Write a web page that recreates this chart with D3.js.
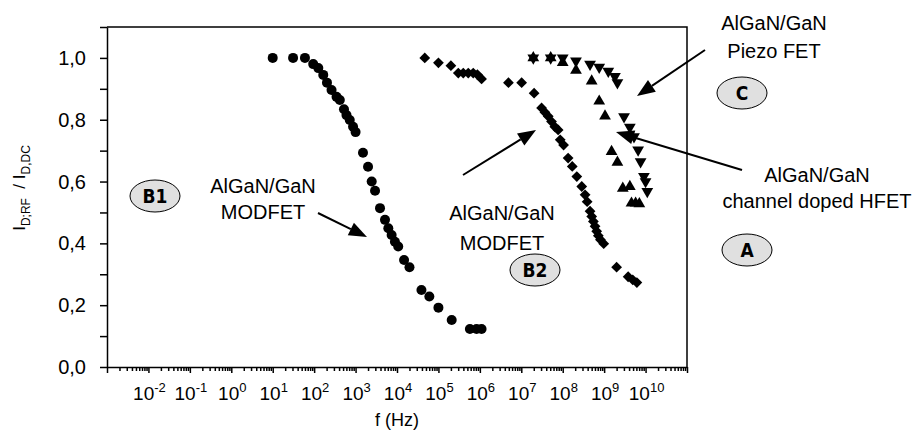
<!DOCTYPE html>
<html lang="en">
	<head>
		<meta charset="utf-8">
		<title>I_D;RF / I_D,DC vs f</title>
		<style>
			body { margin: 0; background: #fff; }
			#graph text { font-family: "Liberation Sans", Arial, sans-serif; fill: #000; }
			#graph .axis path, #graph .axis line { stroke: #000; stroke-width: 1.5; }
			#graph .badge text { font-family: "DejaVu Sans Condensed", "Liberation Sans Narrow", "Liberation Sans", Arial, sans-serif; font-weight: bold; }
		</style>
	</head>
	<body>

		<svg id="graph"></svg>

		<script src="https://d3js.org/d3.v7.min.js"></script>
		<script>
			"use strict";

			// circles : AlGaN/GaN MODFET (B1)
			var modfetB1Freq = [1e1, 3.1e1, 6e1, 9.5e1, 1.26e2, 1.66e2, 2.04e2, 2.63e2, 3.47e2, 4.17e2,
				5.25e2, 6.03e2, 7.24e2, 8.71e2, 1e3, 1.51e3, 2e3, 2.45e3, 2.95e3, 3.89e3,
				5.13e3, 6.17e3, 7.41e3, 8.91e3, 1.07e4, 1.48e4, 2e4, 3.89e4, 6.03e4, 1e5,
				2.09e5, 5.75e5, 8.32e5, 1.1e6];
			var modfetB1Val = [1.0, 1.0, 1.0, 0.98, 0.967, 0.945, 0.92, 0.896, 0.874, 0.864,
				0.834, 0.815, 0.799, 0.777, 0.76, 0.693, 0.648, 0.6, 0.57, 0.514,
				0.476, 0.449, 0.427, 0.405, 0.39, 0.346, 0.323, 0.249, 0.228, 0.192,
				0.152, 0.123, 0.123, 0.123];

			// diamonds : AlGaN/GaN MODFET (B2)
			var modfetB2Freq = [4.68e4, 1e5, 2e5, 3.02e5, 3.98e5, 5.25e5, 6.92e5, 8.71e5, 1.1e6, 4.9e6,
				1.02e7, 2.04e7, 3.09e7, 3.72e7, 4.47e7, 5.37e7, 6.46e7, 7.76e7, 8.71e7, 1.05e8,
				1.35e8, 1.7e8, 2.19e8, 2.88e8, 3.47e8, 3.89e8, 4.57e8, 5.01e8, 5.5e8, 6.03e8,
				6.61e8, 7.24e8, 8.13e8, 9.77e8, 2e9, 3.8e9, 4.9e9, 6.17e9];
			var modfetB2Val = [1.0, 0.984, 0.975, 0.951, 0.951, 0.951, 0.951, 0.946, 0.932, 0.92,
				0.92, 0.886, 0.838, 0.824, 0.811, 0.794, 0.777, 0.767, 0.735, 0.718,
				0.676, 0.649, 0.616, 0.584, 0.557, 0.535, 0.504, 0.487, 0.471, 0.455,
				0.439, 0.425, 0.412, 0.399, 0.323, 0.292, 0.282, 0.273];

			// up triangles : AlGaN/GaN channel doped HFET (A)
			var hfetFreq = [1.95e7, 5.13e7, 1e8, 2.09e8, 5e8, 7.6e8, 1.05e9, 1.51e9, 2.09e9, 2.82e9,
				4.17e9, 4.57e9, 5.75e9, 7.08e9];
			var hfetVal = [1.0, 1.0, 0.985, 0.96, 0.925, 0.86, 0.812, 0.697, 0.662, 0.578,
				0.584, 0.53, 0.53, 0.528];

			// down triangles : AlGaN/GaN Piezo FET (C)
			var piezoFreq = [1.95e7, 5.13e7, 1e8, 2.09e8, 4.57e8, 7.6e8, 1.26e9, 1.82e9, 2.09e9, 3.02e9,
				4.17e9, 5.25e9, 6.61e9, 7.59e9, 9.12e9, 1e10, 1.1e10];
			var piezoVal = [1.0, 1.0, 1.0, 0.99, 0.98, 0.97, 0.957, 0.94, 0.92, 0.81,
				0.776, 0.745, 0.702, 0.664, 0.617, 0.6, 0.568];

			var xTickExps = [-2, -1, 0, 1, 2, 3, 4, 5, 6, 7, 8, 9, 10];
			var yTickValues = [0, 0.2, 0.4, 0.6, 0.8, 1.0];
			var yTickLabels = ["0,0", "0,2", "0,4", "0,6", "0,8", "1,0"];

			var W = 917, H = 438;
			var mLeft = 107, mRight = 687, mTop = 27, mBottom = 367;

			var svg = d3.select("#graph").attr("width", W).attr("height", H);

			var x = d3.scaleLog().domain([1e-3, 1e11]).range([mLeft, mRight]);
			var y = d3.scaleLinear().domain([0, 1.1]).range([mBottom, mTop]);

			// log ticks 1..9 x 10^k
			var xTicks = [];
			for (var k = -3; k <= 10; k++) {
				for (var m = 1; m <= 9; m++) xTicks.push(m * Math.pow(10, k));
			}
			xTicks.push(1e11);

			var xAxis = svg.append("g")
				.attr("class", "axis")
				.attr("transform", "translate(0," + mBottom + ")")
				.call(d3.axisBottom(x).tickValues(xTicks).tickSize(4).tickSizeOuter(0).tickFormat(""));
			xAxis.selectAll(".tick line")
				.attr("y2", function(d){
					var e = Math.log10(d);
					return Math.abs(e - Math.round(e)) < 1e-9 ? 6 : 4;
				});

			var yTicks = d3.range(0, 12).map(function(i){ return i / 10; });
			svg.append("g")
				.attr("class", "axis")
				.attr("transform", "translate(" + mLeft + ",0)")
				.call(d3.axisLeft(y).tickValues(yTicks).tickSize(7).tickSizeOuter(0).tickFormat(""));

			// frame
			svg.append("path")
				.attr("d", "M" + mLeft + "," + mTop + "H" + mRight + "V" + mBottom)
				.attr("fill", "none").attr("stroke", "#000").attr("stroke-width", 1.5);

			// y labels
			svg.append("g").selectAll("text")
				.data(yTickValues)
				.enter()
				.append("text")
				.attr("x", 86)
				.attr("y", function(d){ return y(d) + 7; })
				.attr("text-anchor", "end")
				.attr("font-size", 20)
				.text(function(d,i){ return yTickLabels[i]; });

			// x labels 10^n
			var xl = svg.append("g").selectAll("text")
				.data(xTickExps)
				.enter()
				.append("text")
				.attr("x", function(d){ return x(Math.pow(10, d)) + 1; })
				.attr("y", 400)
				.attr("text-anchor", "middle")
				.attr("font-size", 19);
			xl.append("tspan").text("10");
			xl.append("tspan").attr("dy", -8).attr("font-size", 13).text(function(d){ return d; });

			svg.append("text")
				.attr("x", (mLeft + mRight) / 2)
				.attr("y", 426)
				.attr("text-anchor", "middle")
				.attr("font-size", 18)
				.text("f (Hz)");

			var yt = svg.append("text")
				.attr("transform", "translate(25,188) rotate(-90)")
				.attr("text-anchor", "middle")
				.attr("font-size", 17);
			yt.append("tspan").text("I");
			yt.append("tspan").attr("dy", 5).attr("font-size", 12).text("D;RF");
			yt.append("tspan").attr("dy", -5).text("\u00a0\u00a0/ I");
			yt.append("tspan").attr("dy", 5).attr("font-size", 12).text("D,DC");

			// markers
			function pts(fs, vs) {
				return fs.map(function(f, i){ return { f: f, v: vs[i] }; });
			}
			var marks = svg.append("g");

			marks.selectAll("circle")
				.data(pts(modfetB1Freq, modfetB1Val))
				.enter()
				.append("circle")
				.attr("cx", function(d){ return x(d.f); })
				.attr("cy", function(d){ return y(d.v); })
				.attr("r", 5)
				.attr("fill", "#000");

			function symbols(data, type, size, rot) {
				marks.append("g").selectAll("path")
					.data(data)
					.enter()
					.append("path")
					.attr("d", d3.symbol().type(type).size(size))
					.attr("transform", function(d){
						return "translate(" + x(d.f) + "," + y(d.v) + ") rotate(" + rot + ")";
					})
					.attr("fill", "#000");
			}
			symbols(pts(modfetB2Freq, modfetB2Val), d3.symbolSquare, 58, 45);
			symbols(pts(hfetFreq, hfetVal), d3.symbolTriangle, 60, 0);
			symbols(pts(piezoFreq, piezoVal), d3.symbolTriangle, 60, 180);

			// annotations
			function label(cx, lines, y0, dy) {
				lines.forEach(function(t, i){
					svg.append("text")
						.attr("x", cx).attr("y", y0 + i * dy)
						.attr("text-anchor", "middle")
						.attr("font-size", 20)
						.text(t);
				});
			}
			label(263, ["AlGaN/GaN", "MODFET"], 193, 26);
			label(502, ["AlGaN/GaN", "MODFET"], 220, 30);
			label(774, ["AlGaN/GaN", "Piezo FET"], 30, 28);
			label(817, ["AlGaN/GaN", "channel doped HFET"], 182, 26);

			function arrow(x1, y1, x2, y2) {
				var a = Math.atan2(y2 - y1, x2 - x1), len = 18, hw = 7;
				var bx = x2 - len * Math.cos(a), by = y2 - len * Math.sin(a);
				svg.append("line")
					.attr("x1", x1).attr("y1", y1).attr("x2", bx).attr("y2", by)
					.attr("stroke", "#000").attr("stroke-width", 2);
				svg.append("polygon")
					.attr("points", [
						[x2, y2],
						[bx + hw * Math.sin(a), by - hw * Math.cos(a)],
						[bx - hw * Math.sin(a), by + hw * Math.cos(a)]
					].join(" "))
					.attr("fill", "#000");
			}
			arrow(318, 213, 367, 237);
			arrow(463, 175, 536, 130);
			arrow(705, 50, 637, 96);
			arrow(742, 170, 616, 132);

			function badge(cx, cy, t) {
				var g = svg.append("g").attr("class", "badge");
				g.append("ellipse")
					.attr("cx", cx).attr("cy", cy).attr("rx", 25).attr("ry", 16)
					.attr("fill", "#e0e0e0").attr("stroke", "#000").attr("stroke-width", 1);
				g.append("text")
					.attr("x", cx).attr("y", cy + 7)
					.attr("text-anchor", "middle")
					.attr("font-size", 19)
					.text(t);
			}
			badge(155, 196, "B1");
			badge(535, 270, "B2");
			badge(742, 93, "C");
			badge(747, 250, "A");

		</script>
	</body>
</html>
